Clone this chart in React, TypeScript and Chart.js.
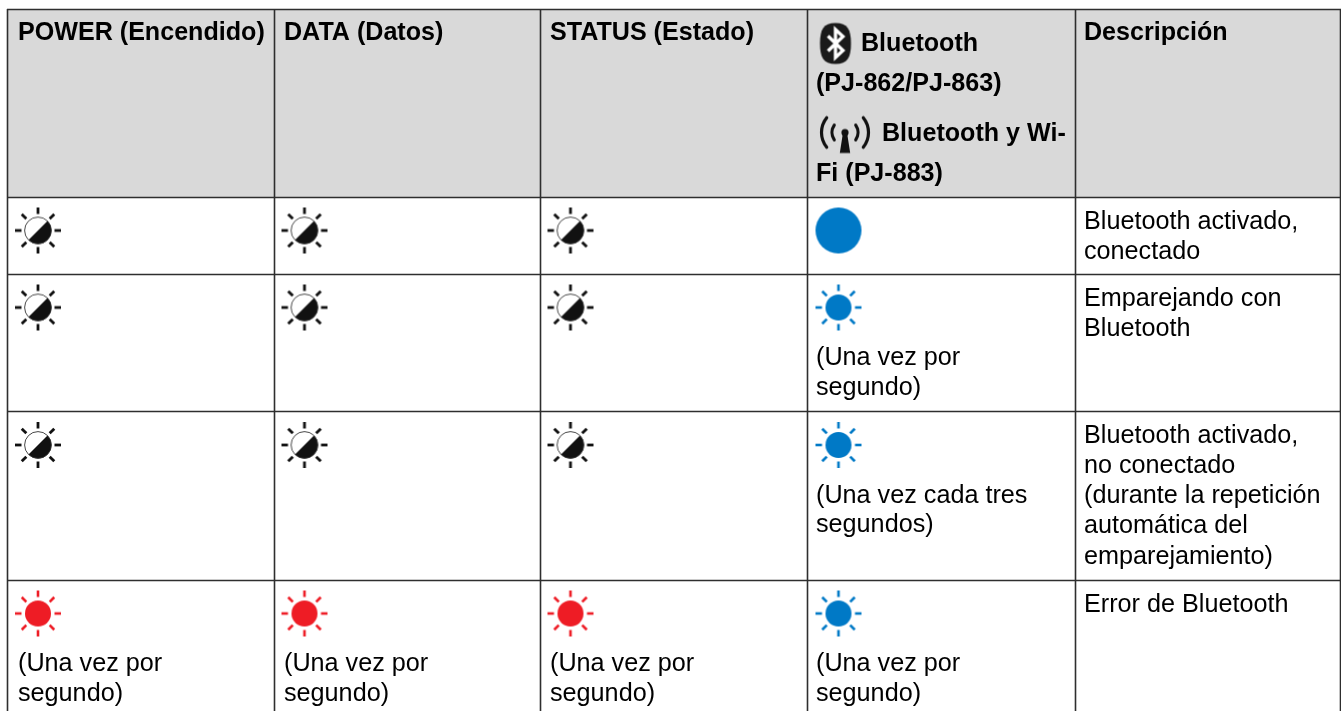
import React, { useEffect, useRef } from "react";
import { Chart, registerables } from "chart.js";

Chart.register(...registerables);

// ---- table content ----
const headerLabels = [
  ["POWER (Encendido)"],
  ["DATA (Datos)"],
  ["STATUS (Estado)"],
  [],
  ["Descripción"],
];
const bluetoothHeaderLines = ["Bluetooth", "(PJ-862/PJ-863)", "Bluetooth y Wi-", "Fi (PJ-883)"];
const ledPatterns = [
  ["half", "half", "half", "solid"],
  ["half", "half", "half", "blue"],
  ["half", "half", "half", "blue"],
  ["red", "red", "red", "blue"],
];
const ledNotes = [
  [[], [], [], []],
  [[], [], [], ["(Una vez por", "segundo)"]],
  [[], [], [], ["(Una vez cada tres", "segundos)"]],
  [
    ["(Una vez por", "segundo)"],
    ["(Una vez por", "segundo)"],
    ["(Una vez por", "segundo)"],
    ["(Una vez por", "segundo)"],
  ],
];
const descriptions = [
  ["Bluetooth activado,", "conectado"],
  ["Emparejando con", "Bluetooth"],
  ["Bluetooth activado,", "no conectado", "(durante la repetición", "automática del", "emparejamiento)"],
  ["Error de Bluetooth"],
];

// ---- layout (grid of the table on the 1:1 linear scales) ----
const colEdges = [7, 274, 540, 807, 1075, 1340];
const rowEdges = [9, 197, 274, 411, 580];
const ledCentreX = [38, 304.5, 570.5, 838.5];
const ledCentreY = [230.5, 307.5, 445, 613.5];
const TEXT_X = [18, 284, 550, 816, 1084];
const FONT = '"Liberation Sans", Arial, sans-serif';
const BOLD_SIZE = 25.1;
const BODY_SIZE = 25.2;
const LINE = 29.7;
const BLUE = "#0079c6";
const RED = "#ee1c25";
const GRID = "#2e2e2e";
const HEADER_BG = "#d9d9d9";

function makeCanvas(w: number, h: number) {
  const c = document.createElement("canvas");
  c.width = w;
  c.height = h;
  return [c, c.getContext("2d") as CanvasRenderingContext2D] as const;
}

function rays(ctx: CanvasRenderingContext2D, cx: number, cy: number, color: string, width: number, inner: number) {
  ctx.strokeStyle = color;
  ctx.lineWidth = width;
  for (let i = 0; i < 8; i++) {
    const a = (i * Math.PI) / 4;
    ctx.beginPath();
    ctx.moveTo(cx + Math.cos(a) * inner, cy + Math.sin(a) * inner);
    ctx.lineTo(cx + Math.cos(a) * 23, cy + Math.sin(a) * 23);
    ctx.stroke();
  }
}

function flashIcon(color: string) {
  const [c, ctx] = makeCanvas(50, 50);
  rays(ctx, 25, 25, color, 2.6, 16.5);
  ctx.fillStyle = color;
  ctx.beginPath();
  ctx.arc(25, 25, 13, 0, Math.PI * 2);
  ctx.fill();
  return c;
}

function halfIcon() {
  const [c, ctx] = makeCanvas(50, 50);
  rays(ctx, 25, 25, "#111111", 2.8, 16.5);
  const r = 13.4;
  ctx.fillStyle = "#ffffff";
  ctx.beginPath();
  ctx.arc(25, 25, r, 0, Math.PI * 2);
  ctx.fill();
  ctx.fillStyle = "#111111";
  ctx.beginPath();
  ctx.arc(25, 25, r, -Math.PI / 4, (3 * Math.PI) / 4);
  ctx.closePath();
  ctx.fill();
  ctx.strokeStyle = "#333333";
  ctx.lineWidth = 0.9;
  ctx.beginPath();
  ctx.arc(25, 25, r, 0, Math.PI * 2);
  ctx.stroke();
  return c;
}

function solidIcon() {
  const [c, ctx] = makeCanvas(50, 50);
  ctx.fillStyle = BLUE;
  ctx.beginPath();
  ctx.arc(25, 25, 23, 0, Math.PI * 2);
  ctx.fill();
  return c;
}

function bluetoothIcon() {
  const [c, ctx] = makeCanvas(34, 44);
  ctx.fillStyle = "#1a1a1a";
  ctx.beginPath();
  ctx.moveTo(17, 1.5);
  ctx.bezierCurveTo(29, 1.5, 32.5, 8, 32.5, 22);
  ctx.bezierCurveTo(32.5, 36, 29, 42.5, 17, 42.5);
  ctx.bezierCurveTo(5, 42.5, 1.5, 36, 1.5, 22);
  ctx.bezierCurveTo(1.5, 8, 5, 1.5, 17, 1.5);
  ctx.fill();
  ctx.strokeStyle = "#ffffff";
  ctx.lineWidth = 3.3;
  ctx.lineJoin = "miter";
  ctx.beginPath();
  ctx.moveTo(9.5, 14.5);
  ctx.lineTo(24.5, 29);
  ctx.lineTo(17, 36);
  ctx.lineTo(17, 8);
  ctx.lineTo(24.5, 15);
  ctx.lineTo(9.5, 29.5);
  ctx.stroke();
  return c;
}

function antennaIcon() {
  const [c, ctx] = makeCanvas(52, 42);
  const cx = 26;
  const cy = 20;
  ctx.strokeStyle = "#111111";
  ctx.lineCap = "round";
  ctx.lineWidth = 3.2;
  for (const [r, span] of [
    [23.5, 0.68],
    [13, 0.6],
  ]) {
    ctx.beginPath();
    ctx.arc(cx, cy, r, -span, span);
    ctx.stroke();
    ctx.beginPath();
    ctx.arc(cx, cy, r, Math.PI - span, Math.PI + span);
    ctx.stroke();
  }
  ctx.fillStyle = "#111111";
  ctx.beginPath();
  ctx.arc(cx, cy, 3.6, 0, Math.PI * 2);
  ctx.fill();
  ctx.beginPath();
  ctx.moveTo(cx - 2, cy);
  ctx.lineTo(cx + 2, cy);
  ctx.lineTo(cx + 5.2, cy + 20.5);
  ctx.lineTo(cx - 5.2, cy + 20.5);
  ctx.closePath();
  ctx.fill();
  return c;
}

const tablePlugin = {
  id: "tablePlugin",
  beforeDatasetsDraw(chart: any) {
    const { ctx, scales } = chart;
    const x = scales.x;
    const y = scales.y;
    const left = x.getPixelForValue(colEdges[0]);
    const right = x.getPixelForValue(colEdges[colEdges.length - 1]);
    const top = y.getPixelForValue(rowEdges[0]);
    const bottom = y.getPixelForValue(rowEdges[1]);
    ctx.save();
    ctx.fillStyle = HEADER_BG;
    ctx.fillRect(left, top, right - left, bottom - top);
    ctx.strokeStyle = GRID;
    ctx.lineWidth = 1.6;
    const bottomEdge = y.getPixelForValue(711);
    for (const v of colEdges) {
      const px = x.getPixelForValue(v) + 0.5;
      ctx.beginPath();
      ctx.moveTo(px, top);
      ctx.lineTo(px, bottomEdge);
      ctx.stroke();
    }
    for (const v of rowEdges) {
      const py = y.getPixelForValue(v) + 0.5;
      ctx.beginPath();
      ctx.moveTo(left, py);
      ctx.lineTo(right + 1, py);
      ctx.stroke();
    }
    ctx.restore();
  },
  afterDatasetsDraw(chart: any) {
    const { ctx, scales } = chart;
    const x = scales.x;
    const y = scales.y;
    const put = (s: string, tx: number, ty: number) =>
      ctx.fillText(s, x.getPixelForValue(tx), y.getPixelForValue(ty));
    ctx.save();
    ctx.textAlign = "left";
    ctx.textBaseline = "alphabetic";
    ctx.fillStyle = "#000000";
    ctx.font = `bold ${BOLD_SIZE}px ${FONT}`;
    headerLabels.forEach((lines, c) => lines.forEach((s) => put(s, TEXT_X[c], 40)));
    put(bluetoothHeaderLines[0], 861, 51);
    put(bluetoothHeaderLines[1], TEXT_X[3], 91);
    put(bluetoothHeaderLines[2], 882, 141);
    put(bluetoothHeaderLines[3], TEXT_X[3], 181);
    ctx.font = `${BODY_SIZE}px ${FONT}`;
    ledNotes.forEach((row, r) =>
      row.forEach((lines, c) =>
        lines.forEach((s, i) => put(s, TEXT_X[c], ledCentreY[r] + 57.5 + i * LINE))
      )
    );
    descriptions.forEach((lines, r) =>
      lines.forEach((s, i) => put(s, TEXT_X[4], rowEdges[r + 1] + 31.7 + i * 30.2))
    );
    ctx.restore();
  },
};

export default function App() {
  const ref = useRef<HTMLCanvasElement>(null);
  useEffect(() => {
    document.body.style.margin = "0";
    const icons: Record<string, HTMLCanvasElement> = {
      half: halfIcon(),
      solid: solidIcon(),
      blue: flashIcon(BLUE),
      red: flashIcon(RED),
    };
    const datasets: any[] = [];
    Object.keys(icons).forEach((state) => {
      const data: { x: number; y: number }[] = [];
      ledPatterns.forEach((row, r) =>
        row.forEach((s, c) => {
          if (s === state) data.push({ x: ledCentreX[c], y: ledCentreY[r] });
        })
      );
      datasets.push({ label: state, data, pointStyle: icons[state], pointRadius: 25 });
    });
    datasets.push({
      label: "bluetooth",
      data: [{ x: 835.5, y: 43.5 }],
      pointStyle: bluetoothIcon(),
      pointRadius: 22,
    });
    datasets.push({
      label: "antenna",
      data: [{ x: 845, y: 133.5 }],
      pointStyle: antennaIcon(),
      pointRadius: 26,
    });
    const chart = new Chart(ref.current as HTMLCanvasElement, {
      type: "scatter",
      data: { datasets },
      options: {
        animation: false,
        responsive: false,
        layout: { padding: 0, autoPadding: false },
        clip: false,
        plugins: { legend: { display: false }, tooltip: { enabled: false }, title: { display: false } },
        scales: {
          x: { type: "linear", min: 0, max: 1341, display: false },
          y: { type: "linear", min: 0, max: 711, reverse: true, display: false },
        },
      },
      plugins: [tablePlugin],
    } as any);
    return () => chart.destroy();
  }, []);
  return <canvas ref={ref} width={1341} height={711} style={{ display: "block", position: "absolute", left: 0, top: 0 }} />;
}
